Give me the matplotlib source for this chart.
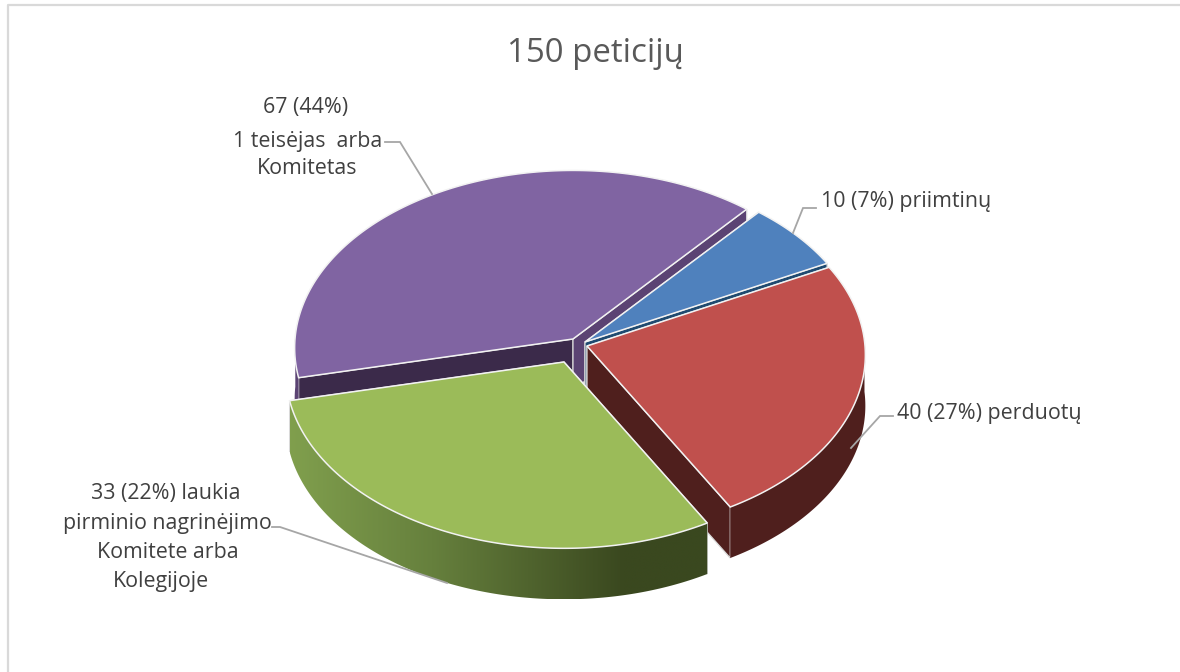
import numpy as np
import matplotlib
matplotlib.use("Agg")
import matplotlib.pyplot as plt
from matplotlib.patches import Polygon

# ---- data ----
categories = ["priimtinų", "perduotų", "laukia pirminio nagrinėjimo", "1 teisėjas arba Komitetas"]
values = [10, 40, 33, 67]
title = "150 peticijų"
label_lines = [
    ["10 (7%) priimtinų"],
    ["40 (27%) perduotų"],
    ["33 (22%) laukia", "pirminio nagrinėjimo", "Komitete arba", "Kolegijoje"],
    ["67 (44%)", "1 teisėjas  arba", "Komitetas"],
]

# ---- styles / layout (pixels) ----
top_colors = ["#4f81bd", "#c0504d", "#9bbb59", "#8064a2"]
start_cut_colors = ["#1f4a70", "#4f1f1d", "#3b4a1f", "#3b2a4a"]
end_cut_colors = ["#1f4a70", "#4f1f1d", "#3b4a1f", "#5b4373"]
side_colors = ["#2f4f76", "#4f1f1d", None, "#5b4373"]
apex = [(585, 342), (587, 346), (564, 362), (573, 339)]
paint_order = [3, 0, 1, 2]
first_angle = 41.0
R, RV, K, DEPTH = 278.0, 177.0, 0.05, 51.0
# view warp (degrees) of the original rendering's 3-D projection
WARP = (-10.72, -0.14, 7.13, -3.53)
label_pos = [
    [(821, 202, "left")],
    [(897, 414, "left")],
    [(166, 493, "center"), (167, 523, "center"), (168, 553, "center"), (161, 582, "center")],
    [(306, 107, "center"), (308, 141, "center"), (307, 168, "center")],
]
leaders = [
    [(816, 208), (803, 208), (793, 233)],
    [(893, 416), (880, 416), (851, 448)],
    [(272, 527), (280, 527), (447, 583)],
    [(385, 142), (400, 142), (432, 194)],
]
FONT = ["Open Sans", "DejaVu Sans"]


def warp(theta_deg):
    t = np.radians(theta_deg)
    a, b, c, e = WARP
    return theta_deg + a * np.sin(t) + b * np.cos(t) + c * np.sin(2 * t) + e * np.cos(2 * t)


def project(phi_deg, radius, centre):
    p = np.radians(phi_deg)
    x, y = radius * np.sin(p), radius * np.cos(p)
    f = 1.0 / (1.0 + K * y)
    return centre[0] + R * x * f, centre[1] - RV * y * f


fig = plt.figure(figsize=(11.8, 6.72), dpi=100, facecolor="white")
ax = fig.add_axes([0, 0, 1, 1])
ax.set_xlim(0, 1180)
ax.set_ylim(672, 0)
ax.axis("off")

# frame (top and left only are visible in the crop)
ax.plot([8, 8, 1180], [672, 5, 5], color="#d9d9d9", lw=1.6, zorder=0)

fracs = np.array(values, dtype=float) / np.sum(values)
bounds = first_angle + 360.0 * np.concatenate([[0], np.cumsum(fracs)])

z = 1
for i in paint_order:
    a0, a1 = bounds[i], bounds[i + 1]
    thetas = np.linspace(a0, a1, 200)
    phis = warp(thetas)
    ax_, ay_ = project(phis, 1.0, apex[i])
    c = apex[i]
    # cut faces
    for (px, py), col in (((ax_[0], ay_[0]), start_cut_colors[i]), ((ax_[-1], ay_[-1]), end_cut_colors[i])):
        ax.add_patch(Polygon([c, (px, py), (px, py + DEPTH), (c[0], c[1] + DEPTH)],
                             closed=True, fc=col, ec="#d9d9d9", lw=0.9, zorder=z))
        z += 1
    # outer rim (front half only)
    front = np.cos(np.radians(phis)) < 0.03
    if front.any():
        rx, ry = ax_[front], ay_[front]
        rim = np.column_stack([np.r_[rx, rx[::-1]], np.r_[ry, ry[::-1] + DEPTH]])
        if side_colors[i] is None:
            # gradient rim
            stops = np.array([[0x80, 0x9f, 0x4d], [0x66, 0x80, 0x3d], [0x3a, 0x48, 0x1f], [0x3a, 0x48, 0x1f]]) / 255.0
            xs = np.linspace(0, 1, 256)
            pos = [0, 0.34, 0.8, 1]
            img = np.stack([np.interp(xs, pos, stops[:, k]) for k in range(3)], axis=-1)[None, :, :]
            im = ax.imshow(img, extent=(rx.min(), rx.max(), ry.max() + DEPTH, ry.min()),
                           aspect="auto", zorder=z, interpolation="bilinear")
            patch = Polygon(rim, closed=True, fc="none", ec="none", transform=ax.transData)
            ax.add_patch(patch)
            im.set_clip_path(patch)
            ax.set_xlim(0, 1180)
            ax.set_ylim(672, 0)
        else:
            ax.add_patch(Polygon(rim, closed=True, fc=side_colors[i], ec="none", zorder=z))
        z += 1
    # top face
    ax.add_patch(Polygon(np.vstack([[c], np.column_stack([ax_, ay_])]), closed=True,
                         fc=top_colors[i], ec="#f2f2f2", lw=1.1, joinstyle="miter", zorder=z))
    z += 1

for pts in leaders:
    xs, ys = zip(*pts)
    ax.plot(xs, ys, color="#a6a6a6", lw=1.3, zorder=z, solid_joinstyle="miter")
z += 1

ax.text(595, 53, title, ha="center", va="center", fontsize=23.8, color="#595959", family=FONT, zorder=z)
for lines, places in zip(label_lines, label_pos):
    for line, (x, y, ha) in zip(lines, places):
        ax.text(x, y, line, ha=ha, va="center", fontsize=15.4, color="#404040", family=FONT, zorder=z)

fig.savefig("out.png", dpi=100, facecolor="white")
